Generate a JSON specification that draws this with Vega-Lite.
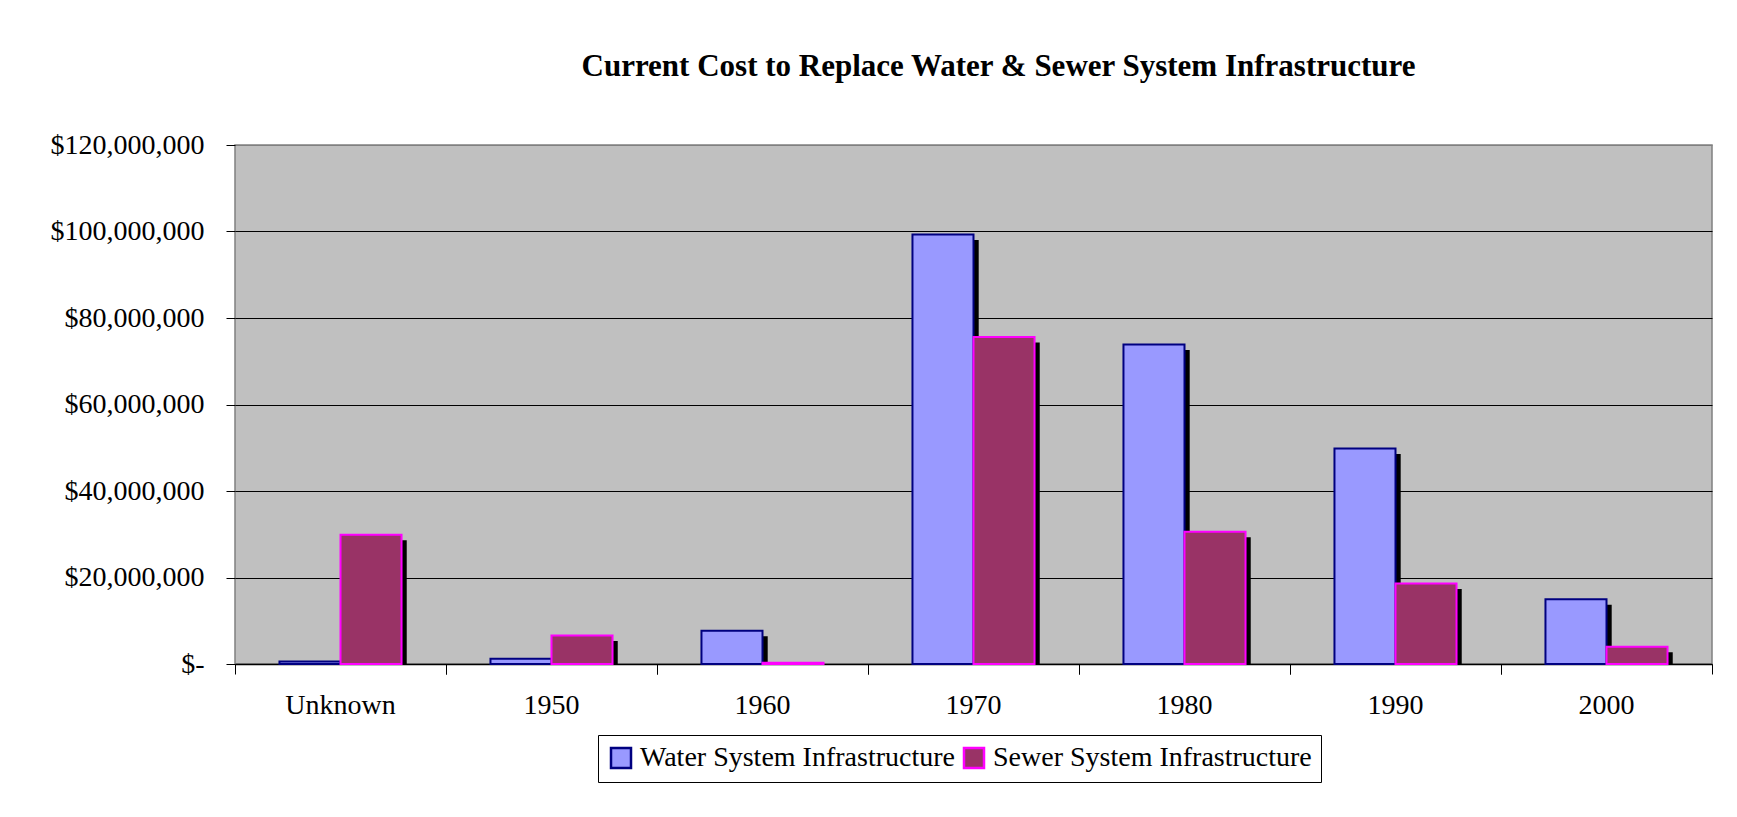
{
  "$schema": "https://vega.github.io/schema/vega-lite/v6.json",
  "width": 1477,
  "height": 519,
  "autosize": {"type": "none"},
  "padding": {"left": 235, "top": 145, "right": 25, "bottom": 153},
  "background": "white",
  "title": {
    "text": "Current Cost to Replace Water & Sewer System Infrastructure",
    "font": "Liberation Serif",
    "fontSize": 31,
    "fontWeight": "bold",
    "color": "black",
    "anchor": "middle",
    "frame": "group",
    "dx": 25,
    "offset": 48
  },
  "config": {
    "font": "Liberation Serif",
    "style": {"guide-label": {"font": "Liberation Serif"}},
    "view": {"fill": "#C0C0C0", "stroke": "#808080", "strokeWidth": 1.5},
    "axis": {
      "labelFont": "Liberation Serif",
      "labelFontSize": 28,
      "labelColor": "black",
      "titleFont": "Liberation Serif"
    },
    "legend": {
      "labelFont": "Liberation Serif",
      "labelFontSize": 28,
      "labelColor": "black"
    }
  },
  "data": {
    "values": [
      {"decade": "Unknown", "series": "Water System Infrastructure", "cost": 600000},
      {"decade": "Unknown", "series": "Sewer System Infrastructure", "cost": 29900000},
      {"decade": "1950", "series": "Water System Infrastructure", "cost": 1200000},
      {"decade": "1950", "series": "Sewer System Infrastructure", "cost": 6600000},
      {"decade": "1960", "series": "Water System Infrastructure", "cost": 7700000},
      {"decade": "1960", "series": "Sewer System Infrastructure", "cost": 300000},
      {"decade": "1970", "series": "Water System Infrastructure", "cost": 99300000},
      {"decade": "1970", "series": "Sewer System Infrastructure", "cost": 75600000},
      {"decade": "1980", "series": "Water System Infrastructure", "cost": 73900000},
      {"decade": "1980", "series": "Sewer System Infrastructure", "cost": 30600000},
      {"decade": "1990", "series": "Water System Infrastructure", "cost": 49800000},
      {"decade": "1990", "series": "Sewer System Infrastructure", "cost": 18600000},
      {"decade": "2000", "series": "Water System Infrastructure", "cost": 15000000},
      {"decade": "2000", "series": "Sewer System Infrastructure", "cost": 4000000}
    ]
  },
  "layer": [
    {
      "mark": {"type": "bar", "color": "black", "yOffset": 5.5, "clip": true},
      "encoding": {
        "x": {
          "field": "decade", "type": "nominal", "sort": null,
          "scale": {"paddingInner": 0, "paddingOuter": 0},
          "axis": {
            "orient": "bottom", "title": null, "labels": false, "domain": false,
            "grid": false, "ticks": true, "tickSize": 10, "tickColor": "black",
            "bandPosition": 0
          }
        },
        "xOffset": {
          "field": "series", "type": "nominal",
          "scale": {
            "domain": ["Water System Infrastructure", "Sewer System Infrastructure"],
            "paddingInner": 0, "paddingOuter": 0.7286, "align": 0.5585
          }
        },
        "y": {
          "field": "cost", "type": "quantitative",
          "scale": {"domain": [0, 120000000], "nice": false},
          "axis": {
            "title": null,
            "values": [0, 20000000, 40000000, 60000000, 80000000, 100000000, 120000000],
            "domain": false,
            "grid": true,
            "gridColor": {"condition": {"test": "datum.value == 120000000", "value": "#808080"}, "value": "#000000"},
            "gridWidth": 1,
            "tickSize": 9,
            "tickColor": "#000000",
            "labelPadding": 22,
            "labelExpr": "datum.value == 0 ? '$-\u00a0\u00a0\u00a0\u00a0' : '$' + format(datum.value, ',')"
          }
        }
      }
    },
    {
      "mark": {"type": "rule", "opacity": 0},
      "encoding": {
        "x": {
          "field": "decade", "type": "nominal", "sort": null,
          "axis": {
            "orient": "bottom", "title": null, "labels": false, "domain": false,
            "grid": false, "ticks": true, "tickSize": 10, "tickColor": "black",
            "bandPosition": 1
          }
        }
      }
    },
    {
      "mark": {"type": "bar", "strokeWidth": 2},
      "encoding": {
        "x": {
          "field": "decade", "type": "nominal", "sort": null,
          "axis": {
            "orient": "bottom", "title": null, "labelAngle": 0, "ticks": false,
            "domain": true, "domainColor": "black", "domainWidth": 1.5,
            "grid": false, "labelPadding": 27
          }
        },
        "xOffset": {
          "field": "series", "type": "nominal",
          "scale": {
            "domain": ["Water System Infrastructure", "Sewer System Infrastructure"],
            "paddingInner": 0, "paddingOuter": 0.7286
          }
        },
        "y": {"field": "cost", "type": "quantitative"},
        "fill": {
          "field": "series", "type": "nominal",
          "scale": {
            "domain": ["Water System Infrastructure", "Sewer System Infrastructure"],
            "range": ["#9999FF", "#993366"]
          },
          "legend": {
            "title": null,
            "orient": "none",
            "legendX": 363,
            "legendY": 590,
            "direction": "horizontal",
            "symbolType": "square",
            "symbolSize": 400,
            "symbolStrokeWidth": 2.5,
            "labelFont": "Liberation Serif",
            "labelFontSize": 28,
            "labelColor": "black",
            "labelLimit": 600,
            "labelOffset": 5,
            "columnPadding": 4,
            "strokeColor": "#000000",
            "fillColor": "white",
            "padding": 9
          }
        },
        "stroke": {
          "field": "series", "type": "nominal",
          "scale": {
            "domain": ["Water System Infrastructure", "Sewer System Infrastructure"],
            "range": ["#000080", "#FF00FF"]
          },
          "legend": {
            "title": null,
            "labelFont": "Liberation Serif",
            "labelFontSize": 28
          }
        }
      }
    }
  ],
  "resolve": {"scale": {"xOffset": "independent"}, "axis": {"x": "independent"}}
}
